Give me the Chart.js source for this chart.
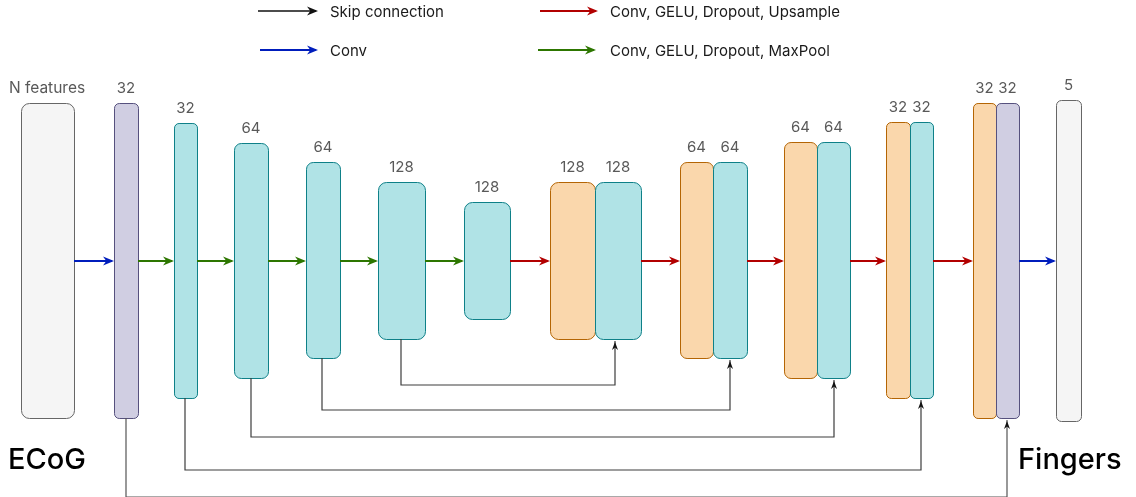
<!DOCTYPE html>
<html>
<head>
<meta charset="utf-8">
<script src="https://cdn.jsdelivr.net/npm/chart.js@4.4.1/dist/chart.umd.min.js"></script>
<style>
  html, body { margin: 0; padding: 0; background: #fff; }
  #wrap { width: 1136px; height: 497px; }
</style>
</head>
<body>
<div id="wrap"><canvas id="unet"></canvas></div>
<script>
// layers of the network, left to right (diagram units = picture pixels)
const layerLabels = ['N features', '32', '32', '64', '64', '128', '128', '128', '128', '64', '64', '64', '64', '32', '32', '32', '32', '5'];
const layerKinds  = ['io', 'conv', 'enc', 'enc', 'enc', 'enc', 'enc', 'up', 'enc', 'up', 'enc', 'up', 'enc', 'up', 'enc', 'up', 'conv', 'io'];
const layerLeft   = [21, 114, 174, 234, 306, 378, 464, 550, 595, 680, 713, 784, 817, 886, 910, 973, 996, 1056];
const layerRight  = [74, 138, 197, 268, 340, 425, 510, 595, 641, 713, 747, 817, 850, 910, 933, 996, 1019, 1081];
const layerTop    = [103, 103, 123, 143, 162, 182, 202, 182, 182, 162, 162, 142, 142, 122, 122, 103, 103, 100];
const layerBottom = [418, 418, 398, 378, 358, 339, 319, 339, 339, 358, 358, 378, 378, 398, 398, 418, 418, 421];

// main flow arrows at the middle line
const flowY    = 261;
const flowFrom = [74, 138, 197, 268, 340, 425, 510, 641, 747, 850, 933, 1019];
const flowTo   = [114, 174, 234, 306, 378, 464, 550, 680, 784, 886, 973, 1056];
const flowKind = ['conv', 'pool', 'pool', 'pool', 'pool', 'pool', 'upsample', 'upsample', 'upsample', 'upsample', 'upsample', 'conv'];

// skip connections: from encoder layer to decoder layer, routed at depth skipY
const skipFromLayer = [5, 4, 3, 2, 1];
const skipToLayer   = [8, 10, 12, 14, 16];
const skipFromX     = [401, 322, 251, 185, 126];
const skipToX       = [615, 730, 834, 921, 1007];
const skipY         = [385, 410, 437, 470, 497];

// legend
const legendText = ['Skip connection', 'Conv', 'Conv, GELU, Dropout, Upsample', 'Conv, GELU, Dropout, MaxPool'];
const legendKind = ['skip', 'conv', 'upsample', 'pool'];
const legendX1   = [258, 260, 540, 538];
const legendX2   = [318, 318, 598, 596];
const legendY    = [11, 50, 11, 50];
const legendTextX = [330, 330, 610, 610];

const sideTitles  = ['ECoG', 'Fingers'];
const sideTitleX  = [8, 1018];
const sideTitleY  = [460, 460];

const boxStyle = {
  io:   { fill: '#f5f5f5', stroke: '#666666' },
  conv: { fill: '#d0cee2', stroke: '#56517e' },
  enc:  { fill: '#b0e3e6', stroke: '#0e8088' },
  up:   { fill: '#fad7ac', stroke: '#b46504' }
};
const arrowColor = { skip: '#111111', conv: '#001dbc', upsample: '#b20000', pool: '#2d7600' };
const FONT = 'Inter, "DejaVu Sans", sans-serif';

function center(i) { return (layerLeft[i] + layerRight[i]) / 2; }

const datasets = [];
for (let i = 0; i < flowFrom.length; i++) {
  datasets.push({ data: [{x: flowFrom[i], y: flowY}, {x: flowTo[i] - 2, y: flowY}],
    showLine: true, borderColor: arrowColor[flowKind[i]], borderWidth: 2, pointRadius: 0, arrow: 'flow' });
}
for (let i = 0; i < legendText.length; i++) {
  datasets.push({ data: [{x: legendX1[i], y: legendY[i]}, {x: legendX2[i] - 2, y: legendY[i]}],
    showLine: true, borderColor: arrowColor[legendKind[i]], borderWidth: legendKind[i] == 'skip' ? 1.5 : 2, pointRadius: 0, arrow: 'flow' });
}
for (let i = 0; i < skipFromLayer.length; i++) {
  const a = skipFromLayer[i], b = skipToLayer[i];
  const xa = skipFromX[i], xb = skipToX[i];
  datasets.push({ data: [{x: xa, y: layerBottom[a]}, {x: xa, y: skipY[i]}, {x: xb, y: skipY[i]}, {x: xb, y: layerBottom[b] + 2}],
    showLine: true, borderColor: i == 4 ? '#555555' : '#3c3c3c', borderWidth: 1.2, pointRadius: 0, arrow: 'skip' });
}

function arrowHead(ctx, x, y, dx, dy, len, wid, color) {
  // draw.io "classic" head: triangle with a notch
  const px = -dy, py = dx;
  ctx.save();
  ctx.fillStyle = color;
  ctx.beginPath();
  ctx.moveTo(x, y);
  ctx.lineTo(x - dx * len + px * wid / 2, y - dy * len + py * wid / 2);
  ctx.lineTo(x - dx * len * 0.7, y - dy * len * 0.7);
  ctx.lineTo(x - dx * len - px * wid / 2, y - dy * len - py * wid / 2);
  ctx.closePath();
  ctx.fill();
  ctx.restore();
}

const diagramPlugin = {
  id: 'diagram',
  beforeDatasetsDraw(chart) {
    const ctx = chart.ctx, sx = chart.scales.x, sy = chart.scales.y;
    ctx.save();
    for (let i = 0; i < layerLabels.length; i++) {
      const x1 = sx.getPixelForValue(layerLeft[i]), x2 = sx.getPixelForValue(layerRight[i]);
      const y1 = sy.getPixelForValue(layerTop[i]), y2 = sy.getPixelForValue(layerBottom[i]);
      const st = boxStyle[layerKinds[i]];
      ctx.beginPath();
      ctx.roundRect(x1 + 0.5, y1 + 0.5, x2 - x1, y2 - y1, Math.min(8, (x2 - x1) * 0.2));
      ctx.fillStyle = st.fill;
      ctx.fill();
      ctx.lineWidth = 1;
      ctx.strokeStyle = st.stroke;
      ctx.stroke();
    }
    // layer sizes
    ctx.fillStyle = '#595959';
    ctx.textAlign = 'center';
    ctx.textBaseline = 'alphabetic';
    for (let i = 0; i < layerLabels.length; i++) {
      ctx.font = (i == 0 ? '15.5px ' : '15px ') + FONT;
      let cx = center(i);
      if (i == 0) cx = 47;
      ctx.fillText(layerLabels[i], sx.getPixelForValue(cx), sy.getPixelForValue(layerTop[i] - 10));
    }
    // legend text
    ctx.textAlign = 'left';
    ctx.textBaseline = 'middle';
    ctx.fillStyle = '#1a1a1a';
    ctx.font = '15px ' + FONT;
    for (let i = 0; i < legendText.length; i++) {
      ctx.fillText(legendText[i], sx.getPixelForValue(legendTextX[i]), sy.getPixelForValue(legendY[i]) + 1);
    }
    // ECoG / Fingers
    ctx.fillStyle = '#000000';
    ctx.font = '500 29px ' + FONT;
    for (let i = 0; i < sideTitles.length; i++) {
      ctx.fillText(sideTitles[i], sx.getPixelForValue(sideTitleX[i]), sy.getPixelForValue(sideTitleY[i]));
    }
    ctx.restore();
  },
  afterDatasetsDraw(chart) {
    const ctx = chart.ctx, sx = chart.scales.x, sy = chart.scales.y;
    chart.data.datasets.forEach((ds) => {
      const n = ds.data.length;
      const p = ds.data[n - 2], q = ds.data[n - 1];
      const x0 = sx.getPixelForValue(p.x), y0 = sy.getPixelForValue(p.y);
      const x1 = sx.getPixelForValue(q.x), y1 = sy.getPixelForValue(q.y);
      const d = Math.hypot(x1 - x0, y1 - y0);
      const dx = (x1 - x0) / d, dy = (y1 - y0) / d;
      if (ds.arrow == 'flow') arrowHead(ctx, x1 + dx * 2, y1 + dy * 2, dx, dy, 11, 9, ds.borderColor);
      else arrowHead(ctx, x1 - dx * 1, y1 - dy * 1, dx, dy, 8, 6, '#111111');
    });
  }
};

new Chart(document.getElementById('unet'), {
  type: 'scatter',
  data: { datasets: datasets },
  options: {
    responsive: true,
    maintainAspectRatio: false,
    animation: false,
    events: [],
    layout: { padding: 0 },
    plugins: { legend: { display: false }, tooltip: { enabled: false } },
    elements: { line: { tension: 0, borderCapStyle: 'butt' } },
    scales: {
      x: { type: 'linear', min: 0, max: 1136, display: false },
      y: { type: 'linear', min: 0, max: 497, reverse: true, display: false }
    }
  },
  plugins: [diagramPlugin]
});
</script>
</body>
</html>
